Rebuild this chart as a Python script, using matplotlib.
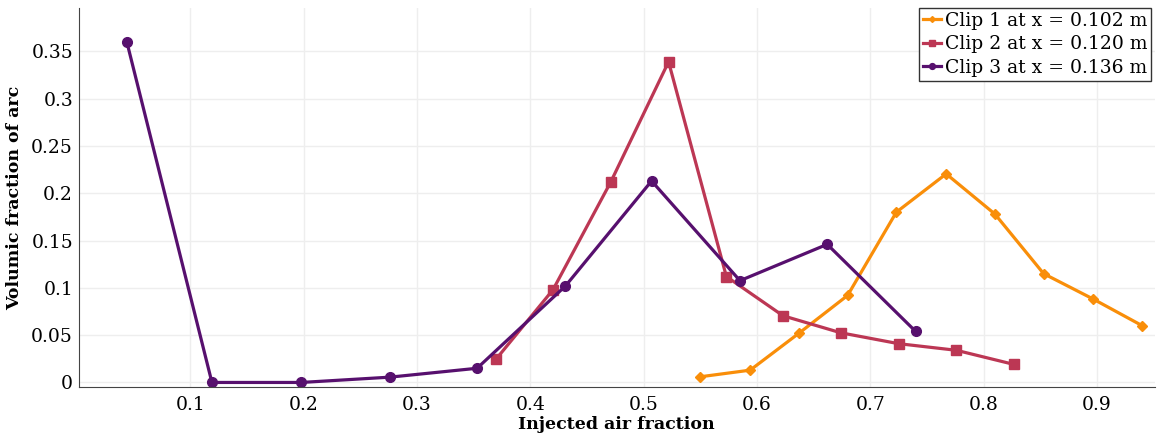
import matplotlib
matplotlib.use("Agg")
import matplotlib.pyplot as plt
from matplotlib.ticker import FuncFormatter

plt.rcParams['font.family'] = ['DejaVu Serif']

# Clip 1 (orange, diamonds)
clip1_x = [0.550, 0.594, 0.637, 0.680, 0.723, 0.767, 0.810, 0.853, 0.897, 0.940]
clip1_y = [0.006, 0.013, 0.052, 0.092, 0.180, 0.2205, 0.178, 0.115, 0.088, 0.060]

# Clip 2 (crimson, squares)
clip2_x = [0.370, 0.420, 0.471, 0.522, 0.573, 0.623, 0.674, 0.725, 0.776, 0.827]
clip2_y = [0.025, 0.098, 0.212, 0.339, 0.112, 0.0705, 0.0525, 0.041, 0.034, 0.019]

# Clip 3 (purple, circles)
clip3_x = [0.044, 0.119, 0.198, 0.276, 0.353, 0.431, 0.507, 0.585, 0.662, 0.740]
clip3_y = [0.3595, 0.0, 0.0, 0.0056, 0.015, 0.102, 0.213, 0.1076, 0.146, 0.054]

labels = ['Clip 1 at x = 0.102 m', 'Clip 2 at x = 0.120 m', 'Clip 3 at x = 0.136 m']
colors = ['#f98e09', '#bc3754', '#57106e']

fig = plt.figure(figsize=(11.57, 4.37), dpi=100)
ax = fig.add_axes([0.068, 0.114, 0.930, 0.868])

ax.plot(clip1_x, clip1_y, color=colors[0], lw=2.3, marker='D', ms=5, label=labels[0])
ax.plot(clip2_x, clip2_y, color=colors[1], lw=2.3, marker='s', ms=7.5, label=labels[1])
ax.plot(clip3_x, clip3_y, color=colors[2], lw=2.3, marker='o', ms=7, label=labels[2])

ax.set_xlim(0.0014, 0.951)
ax.set_ylim(-0.005, 0.396)
ax.set_xticks([0.1, 0.2, 0.3, 0.4, 0.5, 0.6, 0.7, 0.8, 0.9])
ax.set_yticks([0, 0.05, 0.1, 0.15, 0.2, 0.25, 0.3, 0.35])
ax.yaxis.set_major_formatter(FuncFormatter(lambda v, p: '%g' % round(v, 2)))
ax.xaxis.set_major_formatter(FuncFormatter(lambda v, p: '%g' % round(v, 2)))
ax.tick_params(length=0, labelsize=13.5)
ax.tick_params(axis='y', pad=4)
ax.tick_params(axis='x', pad=6)
ax.grid(True, color='#eeeeee', lw=1)
ax.set_axisbelow(True)
for s in ['top', 'right']:
    ax.spines[s].set_visible(False)
for s in ['left', 'bottom']:
    ax.spines[s].set_color('#444444')

ax.set_xlabel('Injected air fraction', fontsize=12.5, fontweight='bold', labelpad=2)
ax.set_ylabel('Volumic fraction of arc', fontsize=12.5, fontweight='bold', labelpad=6)

leg = ax.legend(loc='upper right', bbox_to_anchor=(0.997, 1.0), fontsize=13.5, fancybox=False,
                edgecolor='#333333', framealpha=1, handlelength=1.0, handletextpad=0.2,
                borderpad=0.2, labelspacing=0.3, borderaxespad=0.0, markerscale=0.6)
leg.get_frame().set_linewidth(1.0)

fig.savefig('out.png', dpi=100)
